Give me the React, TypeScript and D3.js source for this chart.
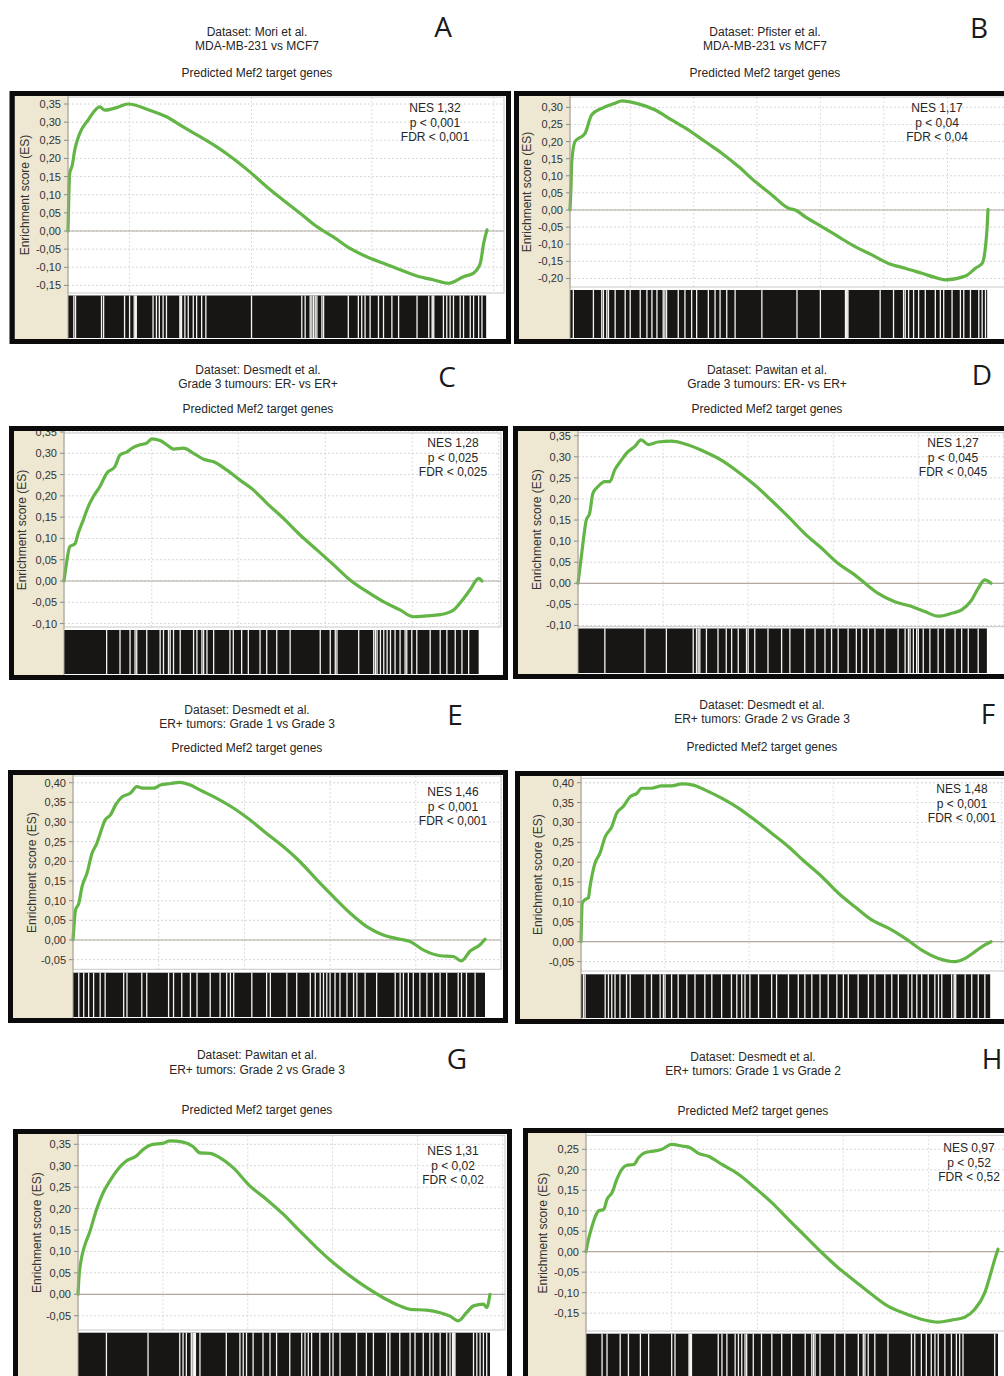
import React from "react";
import * as d3 from "d3";

const width = 1004;
const height = 1376;

// running enrichment score: [position in ranked list (%), ES]
const esA = [[0,0],[0.2,0.1],[0.4,0.159],[1.0,0.18],[1.6,0.223],[2.8,0.269],[4.8,0.306],[7.6,0.342],[8.8,0.333],[11.6,0.34],[14.3,0.35],[19.5,0.333],[23.5,0.315],[27.5,0.287],[31.5,0.26],[35.5,0.232],[39.4,0.2],[43.4,0.163],[47.4,0.122],[51.4,0.085],[55.4,0.049],[59.4,0.012],[61.0,0],[63.3,-0.016],[67.3,-0.048],[71.3,-0.071],[75.3,-0.089],[79.3,-0.107],[83.3,-0.124],[87.3,-0.135],[90.8,-0.144],[94.4,-0.126],[96.8,-0.116],[98.4,-0.089],[99.2,-0.034],[100,0.003]];
const esB = [[0,0],[0.24,0.068],[0.4,0.136],[1.2,0.2],[3.6,0.224],[5.2,0.278],[7.6,0.297],[10.8,0.312],[12.4,0.319],[16.4,0.31],[20.4,0.292],[24.3,0.263],[28.3,0.234],[32.3,0.2],[36.3,0.166],[40.3,0.127],[44.3,0.083],[48.3,0.044],[52.3,0.005],[53.9,0],[56.3,-0.02],[60.3,-0.049],[64.2,-0.078],[68.2,-0.107],[72.2,-0.131],[76.2,-0.156],[80.2,-0.17],[84.2,-0.185],[88.2,-0.2],[89.8,-0.204],[94.6,-0.193],[97.0,-0.17],[98.6,-0.156],[99.4,-0.107],[99.8,-0.049],[100,0.002]];
const esC = [[0,0],[0.6,0.042],[1.4,0.081],[2.6,0.087],[3.4,0.112],[4.6,0.143],[5.8,0.175],[7.0,0.198],[8.6,0.222],[10.2,0.253],[12.2,0.269],[13.4,0.296],[15.0,0.303],[16.6,0.314],[18.2,0.32],[19.8,0.324],[21.0,0.334],[23.0,0.33],[24.6,0.32],[26.2,0.31],[28.6,0.312],[31.0,0.3],[33.4,0.286],[35.8,0.28],[38.9,0.261],[42.1,0.237],[45.3,0.214],[48.5,0.183],[52.5,0.147],[56.5,0.108],[60.5,0.073],[64.5,0.038],[68.5,0.002],[72.5,-0.025],[76.5,-0.049],[80.4,-0.068],[83.6,-0.084],[86.8,-0.082],[90.0,-0.079],[93.2,-0.068],[95.6,-0.041],[97.2,-0.02],[99.2,0.006],[100,0]];
const esD = [[0,0],[0.6,0.047],[1.2,0.095],[2.0,0.15],[2.8,0.165],[3.6,0.213],[4.8,0.229],[6.5,0.241],[7.7,0.241],[8.9,0.269],[10.5,0.292],[12.1,0.312],[13.7,0.324],[15.3,0.34],[17.0,0.329],[19.4,0.335],[22.6,0.337],[26.7,0.328],[30.7,0.312],[34.7,0.292],[38.8,0.264],[42.8,0.233],[46.8,0.197],[50.9,0.158],[54.9,0.118],[59.0,0.083],[63.0,0.047],[67.0,0.02],[69.5,0],[72.7,-0.024],[76.7,-0.044],[80.8,-0.055],[84.0,-0.067],[87.2,-0.078],[90.5,-0.071],[92.9,-0.063],[95.3,-0.04],[96.9,-0.012],[98.5,0.008],[100,0]];
const esE = [[0,0],[0.2,0.03],[0.6,0.076],[1.4,0.093],[2.2,0.136],[3.4,0.17],[4.6,0.22],[5.8,0.246],[6.6,0.271],[7.8,0.305],[9.1,0.318],[10.3,0.343],[11.9,0.364],[13.9,0.373],[15.5,0.39],[17.1,0.386],[19.6,0.386],[21.2,0.394],[23.6,0.398],[26.0,0.401],[28.5,0.394],[30.9,0.381],[34.9,0.36],[39.0,0.335],[43.0,0.305],[47.0,0.271],[51.1,0.237],[55.1,0.199],[59.2,0.153],[63.2,0.11],[67.3,0.068],[71.3,0.034],[75.3,0.013],[79.4,0.002],[81.8,-0.004],[85.0,-0.025],[89.1,-0.04],[92.3,-0.042],[94.3,-0.053],[96.4,-0.028],[98.8,-0.012],[100,0.002]];
const esF = [[0,0],[0.3,0.097],[1.0,0.106],[1.8,0.11],[2.2,0.138],[3.4,0.197],[4.6,0.222],[5.9,0.264],[7.5,0.289],[8.7,0.323],[10.3,0.34],[12.0,0.365],[13.6,0.373],[14.8,0.386],[17.2,0.386],[19.7,0.392],[22.1,0.392],[24.6,0.397],[27.4,0.394],[30.2,0.382],[34.3,0.361],[38.4,0.336],[42.4,0.306],[46.5,0.273],[50.6,0.239],[54.6,0.201],[58.7,0.164],[62.8,0.122],[66.8,0.088],[70.9,0.055],[75.0,0.034],[79.0,0.009],[83.1,-0.021],[87.2,-0.042],[91.2,-0.05],[93.7,-0.042],[96.1,-0.025],[98.5,-0.008],[100,0]];
const esG = [[0,0],[0.2,0.035],[0.8,0.082],[1.6,0.113],[2.8,0.144],[4.5,0.198],[6.1,0.237],[7.7,0.264],[9.7,0.292],[11.7,0.311],[14.2,0.323],[15.8,0.338],[18.2,0.35],[20.6,0.352],[22.3,0.358],[25.5,0.355],[27.9,0.345],[29.6,0.33],[32.0,0.329],[34.4,0.319],[37.7,0.295],[41.7,0.253],[45.7,0.222],[49.8,0.187],[53.8,0.148],[57.9,0.109],[61.9,0.074],[66.0,0.043],[70.0,0.016],[74.1,-0.008],[78.1,-0.027],[80.6,-0.035],[84.6,-0.037],[87.9,-0.043],[90.3,-0.051],[92.3,-0.062],[94.3,-0.043],[96.0,-0.027],[98.4,-0.023],[99.2,-0.031],[100,0]];
const esH = [[0,0],[0.6,0.03],[1.5,0.063],[2.3,0.087],[3.1,0.1],[4.3,0.103],[5.1,0.128],[6.3,0.144],[7.5,0.177],[8.7,0.201],[9.9,0.211],[11.6,0.213],[12.8,0.23],[14.4,0.242],[16.8,0.246],[18.4,0.25],[20.8,0.262],[23.3,0.258],[25.3,0.254],[27.3,0.24],[29.7,0.233],[33.0,0.213],[37.0,0.189],[41.0,0.156],[45.1,0.12],[49.1,0.079],[53.2,0.038],[57.2,-0.002],[61.2,-0.039],[65.3,-0.072],[69.3,-0.104],[73.3,-0.133],[77.4,-0.151],[81.4,-0.165],[85.5,-0.172],[88.7,-0.167],[91.9,-0.16],[94.3,-0.141],[96.8,-0.1],[98.4,-0.047],[99.2,-0.019],[100,0.006]];

// ranks (%) inside the hit barcode where no gene set member sits
const gapsA = [1.4,1.8,8.0,8.5,13.5,14.7,15.8,16.1,16.3,20.3,21.1,21.8,22.7,23.5,26.7,26.9,27.1,27.9,28.7,29.9,30.7,31.9,32.9,43.8,55.8,56.6,57.8,58.2,58.6,59.0,59.4,60.6,61.0,66.9,69.3,70.1,70.9,72.1,74.1,75.3,77.3,78.9,83.3,86.1,86.9,87.1,87.3,89.6,90.4,91.2,92.0,93.6,94.4,96.0,96.8,98.0,98.8];
const gapsB = [0.8,5.6,7.6,8.0,8.8,9.2,10.8,13.2,14.4,16.8,18.4,19.6,20.8,22.3,22.7,23.1,25.9,27.5,29.1,30.3,33.1,34.7,35.9,37.5,39.5,45.9,54.3,59.9,65.9,66.1,66.3,66.5,74.2,77.4,79.8,80.2,81.0,82.2,83.4,85.0,87.4,88.6,89.4,91.4,93.4,94.2,95.8,97.8,98.6,99.4];
const gapsC = [10.2,13.4,15.8,17.0,17.4,19.8,23.0,23.8,25.0,25.4,26.2,27.8,31.0,31.8,33.0,33.4,34.2,35.8,39.7,40.5,42.5,44.1,46.9,48.5,50.9,54.1,61.3,63.7,64.9,65.3,70.5,74.1,74.5,74.9,75.7,76.5,77.3,78.1,79.2,80.4,81.6,82.0,83.2,84.4,87.6,90.0,91.6,93.6,95.2,96.8];
const gapsD = [6.5,16.2,21.4,27.9,28.7,29.1,29.5,31.1,33.9,35.9,37.2,38.8,40.8,41.2,42.8,46.0,49.3,51.3,54.9,57.4,59.8,61.4,63.0,65.4,67.4,68.7,70.3,71.9,74.3,77.5,79.2,80.0,80.4,81.2,82.0,82.4,83.6,85.2,87.2,88.8,91.3,92.9,94.5,96.9];
const gapsE = [1.4,2.6,3.8,5.0,6.6,7.8,12.3,13.1,16.7,17.9,23.2,24.4,26.4,28.5,30.1,33.3,35.7,37.3,38.2,39.0,43.4,47.0,47.9,51.9,54.3,57.6,58.8,60.0,60.8,61.6,62.4,63.6,64.8,66.5,68.1,68.9,70.9,73.7,78.2,79.4,80.2,81.4,82.6,84.2,85.9,87.5,89.1,90.7,93.5,94.3,95.5,97.6];
const gapsF = [0.6,1.0,5.9,6.7,7.5,8.3,9.5,11.1,12.0,15.6,17.2,19.3,20.1,20.5,22.1,23.7,25.8,27.8,30.2,31.9,34.3,36.7,38.0,39.2,40.0,41.2,43.3,46.5,47.7,50.6,53.0,54.6,56.3,58.3,60.3,62.4,64.0,65.2,67.6,70.1,71.7,74.1,75.8,77.4,79.8,80.7,81.9,83.1,84.7,86.3,87.2,88.0,90.4,91.0,91.2,91.4,93.7,95.3,96.9,98.5];
const gapsG = [6.9,17.0,24.7,25.5,26.3,27.5,27.9,28.1,28.3,28.5,29.6,36.0,39.3,40.1,40.9,42.5,44.9,46.6,48.2,51.4,54.3,55.1,55.9,56.7,58.7,61.1,61.9,63.6,67.6,70.0,71.7,74.9,75.7,78.1,80.6,81.8,83.8,85.4,86.2,87.9,89.5,90.3,90.9,91.1,91.3,91.5,96.0,96.8,97.6,98.4,99.2];
const gapsH = [3.9,5.1,8.3,10.3,13.2,15.2,20.8,21.6,25.0,25.2,25.4,25.6,32.1,33.0,34.2,36.2,37.0,37.8,38.6,39.0,40.6,42.6,45.1,47.5,49.9,53.2,54.8,55.2,55.6,56.8,60.4,62.8,66.1,67.3,67.7,68.5,70.1,73.3,79.0,79.8,81.4,82.6,83.8,84.7,85.5,87.1,88.7,89.9,90.7,91.5,99.2];

// y tick values
const ticksA = [0.35,0.3,0.25,0.2,0.15,0.1,0.05,0,-0.05,-0.1,-0.15];
const ticksB = [0.3,0.25,0.2,0.15,0.1,0.05,0,-0.05,-0.1,-0.15,-0.2];
const ticksC = [0.35,0.3,0.25,0.2,0.15,0.1,0.05,0,-0.05,-0.1];
const ticksD = [0.35,0.3,0.25,0.2,0.15,0.1,0.05,0,-0.05,-0.1];
const ticksE = [0.4,0.35,0.3,0.25,0.2,0.15,0.1,0.05,0,-0.05];
const ticksF = [0.4,0.35,0.3,0.25,0.2,0.15,0.1,0.05,0,-0.05];
const ticksG = [0.35,0.3,0.25,0.2,0.15,0.1,0.05,0,-0.05];
const ticksH = [0.25,0.2,0.15,0.1,0.05,0,-0.05,-0.1,-0.15];

// vertical grid positions (% of list)
const gridA = [14.7,43.8,72.5,101.6];
const gridB = [14.4,29.6,44.7,59.9,75.1,90.3];
const gridC = [21,41.7,62.5,83.3,104];
const gridD = [20.6,41.2,61.8,82.4,103];
const gridE = [20.8,41.6,62.4,83.2,104];
const gridF = [20.5,41,61.5,82,102.5];
const gridG = [20.6,41.2,61.8,82.4,103];
const gridH = [20.8,41.6,62.4,83.2,104];

const panels = [
  { key: "A", dataset: "Dataset: Mori et al.", contrast: "MDA-MB-231 vs MCF7", nes: "NES 1,32", p: "p < 0,001", fdr: "FDR < 0,001", es: esA, gaps: gapsA, ticks: ticksA, grid: gridA },
  { key: "B", dataset: "Dataset: Pfister et al.", contrast: "MDA-MB-231 vs MCF7", nes: "NES 1,17", p: "p < 0,04", fdr: "FDR < 0,04", es: esB, gaps: gapsB, ticks: ticksB, grid: gridB },
  { key: "C", dataset: "Dataset: Desmedt et al.", contrast: "Grade 3 tumours: ER- vs ER+", nes: "NES 1,28", p: "p < 0,025", fdr: "FDR < 0,025", es: esC, gaps: gapsC, ticks: ticksC, grid: gridC },
  { key: "D", dataset: "Dataset: Pawitan et al.", contrast: "Grade 3 tumours: ER- vs ER+", nes: "NES 1,27", p: "p < 0,045", fdr: "FDR < 0,045", es: esD, gaps: gapsD, ticks: ticksD, grid: gridD },
  { key: "E", dataset: "Dataset: Desmedt et al.", contrast: "ER+ tumors: Grade 1 vs Grade 3", nes: "NES 1,46", p: "p < 0,001", fdr: "FDR < 0,001", es: esE, gaps: gapsE, ticks: ticksE, grid: gridE },
  { key: "F", dataset: "Dataset: Desmedt et al.", contrast: "ER+ tumors: Grade 2 vs Grade 3", nes: "NES 1,48", p: "p < 0,001", fdr: "FDR < 0,001", es: esF, gaps: gapsF, ticks: ticksF, grid: gridF },
  { key: "G", dataset: "Dataset: Pawitan et al.", contrast: "ER+ tumors: Grade 2 vs Grade 3", nes: "NES 1,31", p: "p < 0,02", fdr: "FDR < 0,02", es: esG, gaps: gapsG, ticks: ticksG, grid: gridG },
  { key: "H", dataset: "Dataset: Desmedt et al.", contrast: "ER+ tumors: Grade 1 vs Grade 2", nes: "NES 0,97", p: "p < 0,52", fdr: "FDR < 0,52", es: esH, gaps: gapsH, ticks: ticksH, grid: gridH },
];

// page layout of each panel
const layout = {
  A: { frame: [9.5, 91, 501.5, 253], plotL: 68, curveR: 487, plotT: 97, lineB: 293, barT: 295.5, barEnd: 99.8, topTick: 0.35, topPx: 104, zeroPx: 231, titleX: 257, titleY: [32, 46, 73], letter: [443, 27], nes: [435, 108], yTitleX: 25 },
  B: { frame: [514, 91, 600, 253], plotL: 570, curveR: 988, plotT: 97, lineB: 287, barT: 290, barEnd: 99.8, topTick: 0.3, topPx: 107.3, zeroPx: 210, titleX: 765, titleY: [32, 46, 73], letter: [979, 28], nes: [937, 108], yTitleX: 527 },
  C: { frame: [9, 426, 499, 254], plotL: 64, curveR: 482, plotT: 433, lineB: 627, barT: 630, barEnd: 99.2, topTick: 0.3, topPx: 453.3, zeroPx: 581, titleX: 258, titleY: [370, 384, 409], letter: [447, 377], nes: [453, 443], yTitleX: 22 },
  D: { frame: [513, 426, 600, 253], plotL: 578, curveR: 991, plotT: 432.7, lineB: 626.7, barT: 628.5, barEnd: 99.0, topTick: 0.35, topPx: 435.7, zeroPx: 583.3, titleX: 767, titleY: [370, 384, 409], letter: [982, 375], nes: [953, 443], yTitleX: 537 },
  E: { frame: [8, 770, 500, 253], plotL: 73, curveR: 485, plotT: 776, lineB: 969.3, barT: 972.7, barEnd: 100, topTick: 0.4, topPx: 782.7, zeroPx: 940, titleX: 247, titleY: [710, 724, 748], letter: [455, 715], nes: [453, 792], yTitleX: 32 },
  F: { frame: [515, 771, 600, 253], plotL: 581, curveR: 991, plotT: 778.3, lineB: 971, barT: 974.3, barEnd: 99.8, topTick: 0.4, topPx: 782.7, zeroPx: 941.7, titleX: 762, titleY: [705, 719, 747], letter: [988, 714], nes: [962, 789], yTitleX: 538 },
  G: { frame: [13, 1129, 499, 400], plotL: 78, curveR: 490, plotT: 1135.3, lineB: 1330, barT: 1332.7, barEnd: 100, topTick: 0.35, topPx: 1144.3, zeroPx: 1294.3, titleX: 257, titleY: [1055, 1070, 1110], letter: [457, 1059], nes: [453, 1151], yTitleX: 37 },
  H: { frame: [523, 1128, 600, 400], plotL: 586, curveR: 998, plotT: 1135.3, lineB: 1331, barT: 1333.7, barEnd: 100, topTick: 0.25, topPx: 1149.3, zeroPx: 1251.7, titleX: 753, titleY: [1057, 1071, 1111], letter: [992, 1059], nes: [969, 1148], yTitleX: 543 },
};

const locale = d3.formatLocale({ decimal: ",", thousands: ".", grouping: [3], currency: ["", ""], minus: "-" });
const fmt = locale.format(".2f");

const font = "'Liberation Sans', Arial, sans-serif";
const green = "#63b545";
const border = 5;

const Panel = ({ p, L }) => {
  const [fx, fy, fw, fh] = L.frame;
  const ix = fx + border;
  const iy = fy + border;
  const iw = fw - 2 * border;
  const ih = fh - 2 * border;
  const innerR = Math.min(ix + iw, width + 20);
  const innerB = iy + ih;
  const plotR = innerR - 2;

  const x = d3.scaleLinear().domain([0, 100]).range([L.plotL, L.curveR]);
  const y = d3.scaleLinear().domain([0, L.topTick]).range([L.zeroPx, L.topPx]);
  const line = d3.line().x((d) => x(d[0])).y((d) => y(d[1])).curve(d3.curveMonotoneX);
  const clipId = `clip-${p.key}`;
  const midY = (L.plotT + L.lineB) / 2;

  return (
    <g>
      <defs>
        <clipPath id={clipId}>
          <rect x={ix} y={iy} width={iw} height={ih} />
        </clipPath>
      </defs>

      <g fontFamily={font} fontSize={12} fill="#262626" textAnchor="middle">
        <text x={L.titleX} y={L.titleY[0] + 4}>{p.dataset}</text>
        <text x={L.titleX} y={L.titleY[1] + 4}>{p.contrast}</text>
        <text x={L.titleX} y={L.titleY[2] + 4}>Predicted Mef2 target genes</text>
      </g>
      <text x={L.letter[0]} y={L.letter[1] + 10} textAnchor="middle" fontFamily="'Open Sans', 'Noto Sans', sans-serif" fontSize={28} fill="#1a1a1a">
        {p.key}
      </text>

      <rect x={fx} y={fy} width={fw} height={fh} fill="#0b0b0b" />
      <g clipPath={`url(#${clipId})`}>
        <rect x={ix} y={iy} width={L.plotL - ix} height={ih} fill="#eee7d1" />
        <rect x={L.plotL} y={iy} width={innerR - L.plotL} height={ih} fill="#ffffff" />

        {p.ticks.map((t) => (
          <line key={`h${t}`} x1={L.plotL} x2={plotR} y1={y(t)} y2={y(t)}
            stroke="#d6d6d6" strokeWidth={1} strokeDasharray="2,2" />
        ))}
        {p.grid.map((g) => (
          <line key={`v${g}`} x1={x(g)} x2={x(g)} y1={L.plotT} y2={L.lineB}
            stroke="#dcdcdc" strokeWidth={1} strokeDasharray="2,2" />
        ))}
        <rect x={L.plotL} y={L.plotT} width={plotR - L.plotL} height={L.lineB - L.plotT}
          fill="none" stroke="#c8c8c8" strokeWidth={1} />
        <line x1={L.plotL} x2={plotR} y1={y(0)} y2={y(0)} stroke="#b2a9a2" strokeWidth={1.2} />

        <path d={line(p.es)} fill="none" stroke={green} strokeWidth={3.2} strokeLinejoin="round" strokeLinecap="round" />

        <rect x={x(0)} y={L.barT} width={x(L.barEnd) - x(0)} height={innerB - 1 - L.barT} fill="#171614" />
        {p.gaps.map((g, i) => (
          <line key={`g${i}`} x1={x(g)} x2={x(g)} y1={L.barT} y2={innerB - 1} stroke="#f4f4f4" strokeWidth={1.3} />
        ))}

        {p.ticks.map((t) => (
          <g key={`t${t}`}>
            <line x1={L.plotL - 4} x2={L.plotL} y1={y(t)} y2={y(t)} stroke="#8a8a8a" />
            <text x={L.plotL - 7} y={y(t) + 4} textAnchor="end" fontFamily={font} fontSize={11} fill="#333">
              {fmt(t)}
            </text>
          </g>
        ))}
        <line x1={L.plotL} x2={L.plotL} y1={iy} y2={innerB} stroke="#a8a295" strokeWidth={1} />

        <text transform={`translate(${L.yTitleX},${midY}) rotate(-90)`} textAnchor="middle" dominantBaseline="central"
          fontFamily={font} fontSize={12} fill="#333">
          Enrichment score (ES)
        </text>

        <g fontFamily={font} fontSize={12} fill="#262626" textAnchor="middle">
          <text x={L.nes[0]} y={L.nes[1] + 4}>{p.nes}</text>
          <text x={L.nes[0]} y={L.nes[1] + 18.5}>{p.p}</text>
          <text x={L.nes[0]} y={L.nes[1] + 33}>{p.fdr}</text>
        </g>
      </g>
    </g>
  );
}

export default function App() {
  return (
    <svg width={width} height={height} style={{ position: "absolute", left: 0, top: 0, background: "#fff" }}>
      <rect x={0} y={0} width={width} height={height} fill="#ffffff" />
      {panels.map((p) => (
        <Panel key={p.key} p={p} L={layout[p.key]} />
      ))}
    </svg>
  );
}
